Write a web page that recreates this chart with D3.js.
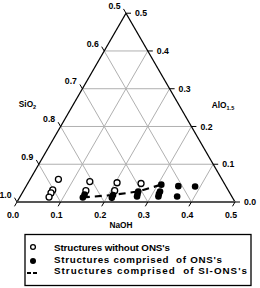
<!DOCTYPE html>
<html><head><meta charset="utf-8">
<script src="https://cdn.jsdelivr.net/npm/d3@7"></script>
<style>
html,body{margin:0;padding:0;background:#fff;}
svg text{font-family:"Liberation Sans",Arial,sans-serif;font-weight:bold;fill:#000;}
</style></head>
<body><svg id="c" width="260" height="288"></svg>
<script>
// ternary data: NaOH and AlO1.5 mole fractions (SiO2 = 1 - NaOH - AlO1.5)
const openNaOH = [0.065,0.066,0.066,0.067, 0.140,0.143, 0.204,0.209, 0.260];
const openAl   = [0.060,0.032,0.024,0.013, 0.054,0.030, 0.051,0.030, 0.049];
const filledNaOH = [0.145,0.145, 0.211,0.212, 0.264,0.266,0.268, 0.308,0.314,0.315,0.317, 0.349,0.360, 0.388];
const filledAl   = [0.020,0.012, 0.0185,0.011, 0.028,0.021,0.0146, 0.046,0.028,0.021,0.0146, 0.042,0.0146, 0.041];
const siNaOH = [0.145,0.211,0.264,0.308];
const siAl   = [0.012,0.0185,0.028,0.046];
const tickVals = [0,0.1,0.2,0.3,0.4,0.5];
const bottomLabels = ["0.0","0.1","0.2","0.3","0.4","0.5"];
const leftLabels = ["1.0","0.9","0.8","0.7","0.6","0.5"];
const rightLabels = ["0.0","0.1","0.2","0.3","0.4","0.5"];
const gridVals = [0.1,0.2,0.3,0.4];
const legendLabels = ["Structures without ONS's","Structures comprised  of ONS's","Structures comprised  of SI-ONS's"];
const legendWidths = [116, 168, 193];

const svg = d3.select("#c");
const x0 = 17, y0 = 202, W = 218, H = W*Math.sqrt(3)/2;
const xs = d3.scaleLinear().domain([0,0.5]).range([x0,x0+W]);
const ys = d3.scaleLinear().domain([0,0.5]).range([y0,y0-H]);
const px = (n,a) => xs(n + a/2);
const py = (n,a) => ys(a);

// grid
const grid = svg.append("g").attr("stroke","#b0b0b0").attr("stroke-width",1);
gridVals.forEach(v=>{
  grid.append("line").attr("x1",px(0,v)).attr("y1",py(0,v)).attr("x2",px(0.5-v,v)).attr("y2",py(0.5-v,v));
  grid.append("line").attr("x1",px(v,0)).attr("y1",py(v,0)).attr("x2",px(v,0.5-v)).attr("y2",py(v,0.5-v));
  grid.append("line").attr("x1",px(v,0)).attr("y1",py(v,0)).attr("x2",px(0,v)).attr("y2",py(0,v));
});

// edges
svg.append("line").attr("x1",px(0,0)).attr("y1",py(0,0)).attr("x2",px(0,0.5)).attr("y2",py(0,0.5)).attr("stroke","#000").attr("stroke-width",1.3);
svg.append("line").attr("x1",px(0.5,0)).attr("y1",py(0.5,0)).attr("x2",px(0,0.5)).attr("y2",py(0,0.5)).attr("stroke","#000").attr("stroke-width",1.3);
svg.append("line").attr("x1",px(0,0)).attr("y1",py(0,0)).attr("x2",px(0.5,0)).attr("y2",py(0.5,0)).attr("stroke","#555").attr("stroke-width",2);

// ticks & labels
const tk = svg.append("g").attr("stroke","#000").attr("stroke-width",1);
tickVals.forEach((v,i)=>{
  const bx = px(v,0), by = py(v,0);
  tk.append("line").attr("x1",bx).attr("y1",by).attr("x2",bx-2.5).attr("y2",by+4.3);
  svg.append("text").attr("x",bx-4).attr("y",by+13).attr("dy","0.35em").attr("text-anchor","middle").attr("font-size",8.7).text(bottomLabels[i]);
  const lx = px(0,v), ly = py(0,v);
  tk.append("line").attr("x1",lx).attr("y1",ly).attr("x2",lx-2.5).attr("y2",ly-4.3);
  svg.append("text").attr("x",lx-11.5).attr("y",ly-7.5).attr("dy","0.35em").attr("text-anchor","middle").attr("font-size",8.7).text(leftLabels[i]);
  const rx = px(0.5-v,v), ry = py(0.5-v,v);
  tk.append("line").attr("x1",rx).attr("y1",ry).attr("x2",rx+5).attr("y2",ry);
  svg.append("text").attr("x",rx+9).attr("y",ry).attr("dy","0.35em").attr("text-anchor","start").attr("font-size",8.7).text(rightLabels[i]);
});

// axis titles
const t1 = svg.append("text").attr("x",27.5).attr("y",104).attr("dy","0.35em").attr("text-anchor","middle").attr("font-size",8.3);
t1.append("tspan").text("SiO");
t1.append("tspan").attr("font-size",5.5).attr("dy",2.5).text("2");
const t2 = svg.append("text").attr("x",223).attr("y",105).attr("dy","0.35em").attr("text-anchor","middle").attr("font-size",8.3);
t2.append("tspan").text("AlO");
t2.append("tspan").attr("font-size",5.5).attr("dy",2.5).text("1.5");
svg.append("text").attr("x",121).attr("y",225).attr("dy","0.35em").attr("text-anchor","middle").attr("font-size",8.3).text("NaOH");

// dashed Si-ONS line
const line = d3.line().x(d=>px(d[0],d[1])).y(d=>py(d[0],d[1]));
svg.append("path").datum(d3.zip(siNaOH,siAl)).attr("d",line).attr("fill","none")
  .attr("stroke","#000").attr("stroke-width",2.2).attr("stroke-dasharray","7,5");

// points
svg.append("g").selectAll("circle").data(d3.zip(openNaOH,openAl)).join("circle")
  .attr("cx",d=>px(d[0],d[1])).attr("cy",d=>py(d[0],d[1])).attr("r",3)
  .attr("fill","#fff").attr("stroke","#000").attr("stroke-width",1.3);
svg.append("g").selectAll("circle").data(d3.zip(filledNaOH,filledAl)).join("circle")
  .attr("cx",d=>px(d[0],d[1])).attr("cy",d=>py(d[0],d[1])).attr("r",3.3)
  .attr("fill","#000");

// legend
svg.append("rect").attr("x",25).attr("y",234.5).attr("width",226).attr("height",51)
  .attr("fill","#fff").attr("stroke","#000").attr("stroke-width",1.3);
const rows = [248,259.5,271];
svg.append("circle").attr("cx",33).attr("cy",rows[0]-1).attr("r",2.4).attr("fill","#fff").attr("stroke","#000").attr("stroke-width",1.3);
svg.append("circle").attr("cx",33).attr("cy",rows[1]+1.5).attr("r",3).attr("fill","#000");
svg.append("line").attr("x1",27).attr("x2",37).attr("y1",rows[2]+2).attr("y2",rows[2]+2).attr("stroke","#000").attr("stroke-width",2).attr("stroke-dasharray","4,2");
legendLabels.forEach((t,i)=>{
  svg.append("text").attr("x",54).attr("y",rows[i]).attr("dy","0.35em").attr("font-size",9.8)
    .attr("textLength",legendWidths[i]).attr("lengthAdjust","spacing")
    .style("white-space","pre").text(t);
});
</script></body></html>
